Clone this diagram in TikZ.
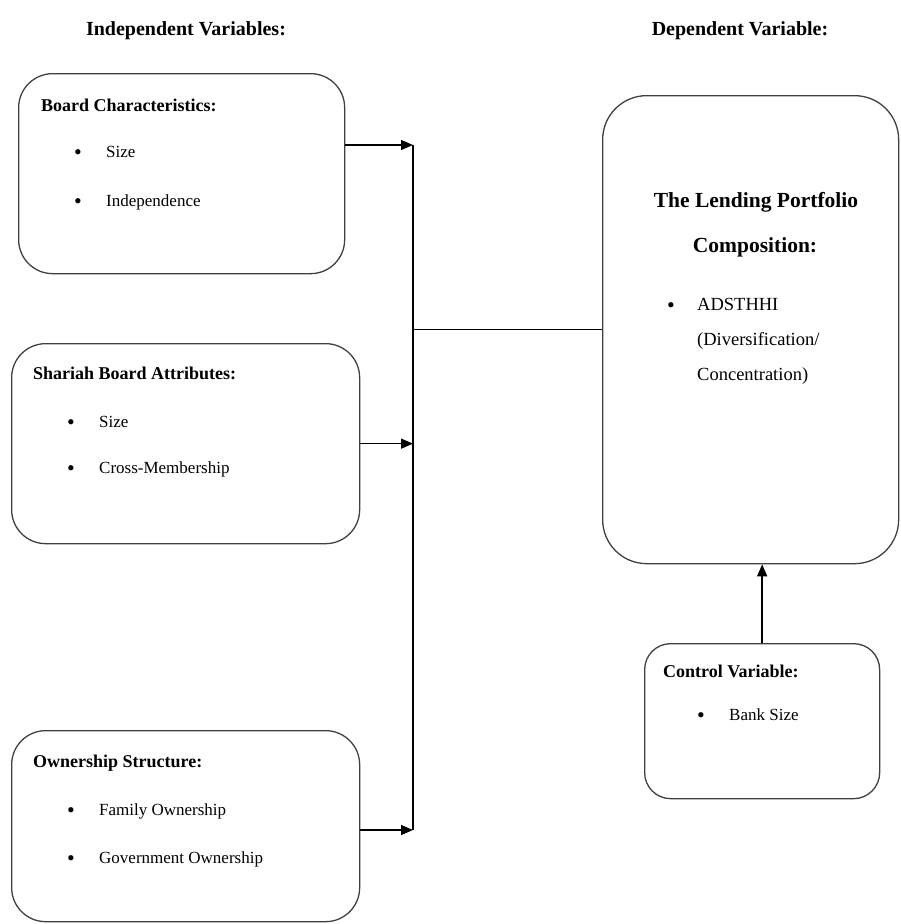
\documentclass[tikz,border=0pt]{standalone}
\usepackage{fontspec}
\setmainfont{Liberation Serif}
\usepackage{tikz}
\usetikzlibrary{shapes,arrows}
\usetikzlibrary{positioning}
\usetikzlibrary{arrows.meta}

\tikzset{
  varbox/.style={draw=black!75, line width=1.3pt, rounded corners=34pt, anchor=north west, inner sep=0pt},
  head/.style={anchor=base west, inner sep=0pt, font=\fontsize{18}{21}\selectfont\bfseries},
  item/.style={anchor=base west, inner sep=0pt, font=\fontsize{17}{20}\selectfont},
  dot/.style={anchor=base, inner sep=0pt, yshift=-2pt, font=\fontsize{22}{24}\selectfont},
  conn/.style={line width=1.4pt},
  arr/.style={line width=1.4pt, -{Triangle[length=12pt,width=10pt]}}
}

\begin{document}
\begin{tikzpicture}[x=1pt,y=-1pt]
       \useasboundingbox (0,0) rectangle (900,924);
       % titles
       \node[anchor=base, inner sep=0pt, font=\fontsize{20}{24}\selectfont\bfseries] (indep) at (186,35) {Independent Variables:};
       \node[anchor=base, inner sep=0pt, font=\fontsize{20}{24}\selectfont\bfseries] (dept) at (740,35) {Dependent Variable:};

       % independent boxes
       \node[varbox, minimum width=326pt, minimum height=200pt] (board) at (18,73) {};
       \node[head] (boardhd) at (41,111) {Board Characteristics:};
       \node[dot] (bd1) at (78,157) {\textbullet};
       \node[item] (bi1) at (106,157) {Size};
       \node[dot] (bd2) at (78,206) {\textbullet};
       \node[item] (bi2) at (106,206) {Independence};

       \node[varbox, minimum width=348pt, minimum height=200pt] (shariah) at (11,343) {};
       \node[head] (shariahhd) at (33,379) {Shariah Board Attributes:};
       \node[dot] (sd1) at (71,427) {\textbullet};
       \node[item] (si1) at (99,427) {Size};
       \node[dot] (sd2) at (71,473) {\textbullet};
       \node[item] (si2) at (99,473) {Cross-Membership};

       \node[varbox, minimum width=348pt, minimum height=191pt] (owner) at (11,730) {};
       \node[head] (ownerhd) at (33,767) {Ownership Structure:};
       \node[dot] (od1) at (71,815) {\textbullet};
       \node[item] (oi1) at (99,815) {Family Ownership};
       \node[dot] (od2) at (71,863) {\textbullet};
       \node[item] (oi2) at (99,863) {Government Ownership};

       % dependent box
       \node[varbox, rounded corners=44pt, minimum width=296pt, minimum height=468pt] (dep) at (602,95) {};
       \node[anchor=base, inner sep=0pt, font=\fontsize{21.5}{25}\selectfont\bfseries] (dephd1) at (756,207) {The Lending Portfolio};
       \node[anchor=base, inner sep=0pt, font=\fontsize{21.5}{25}\selectfont\bfseries] (dephd2) at (755,252) {Composition:};
       \node[dot] (dd1) at (671,310) {\textbullet};
       \node[item, font=\fontsize{18.5}{22}\selectfont] (di1) at (697,310) {ADSTHHI};
       \node[item, font=\fontsize{18.5}{22}\selectfont] (di2) at (697,345) {(Diversification/};
       \node[item, font=\fontsize{18.5}{22}\selectfont] (di3) at (697,380) {Concentration)};

       % control box
       \node[varbox, rounded corners=26pt, minimum width=235pt, minimum height=155pt] (ctrl) at (644,643) {};
       \node[head] (ctrlhd) at (663,677) {Control Variable:};
       \node[dot] (cd1) at (701,720) {\textbullet};
       \node[item] (ci1) at (729,720) {Bank Size};

       % connectors
       \coordinate (jtop) at (413,145);
       \coordinate (jbot) at (413,830);
       \draw[conn] (jtop) -- (jbot);
       \draw[arr] (board.east |- jtop) -- (jtop);
       \draw[arr] (shariah.east) -- (shariah.east -| jtop);
       \draw[arr] (owner.east |- jbot) -- (jbot);
       \draw[conn] (dep.west -| jtop) -- (dep.west);
       \draw[arr] (ctrl.north) -- (ctrl.north |- dep.south);
\end{tikzpicture}
\end{document}
